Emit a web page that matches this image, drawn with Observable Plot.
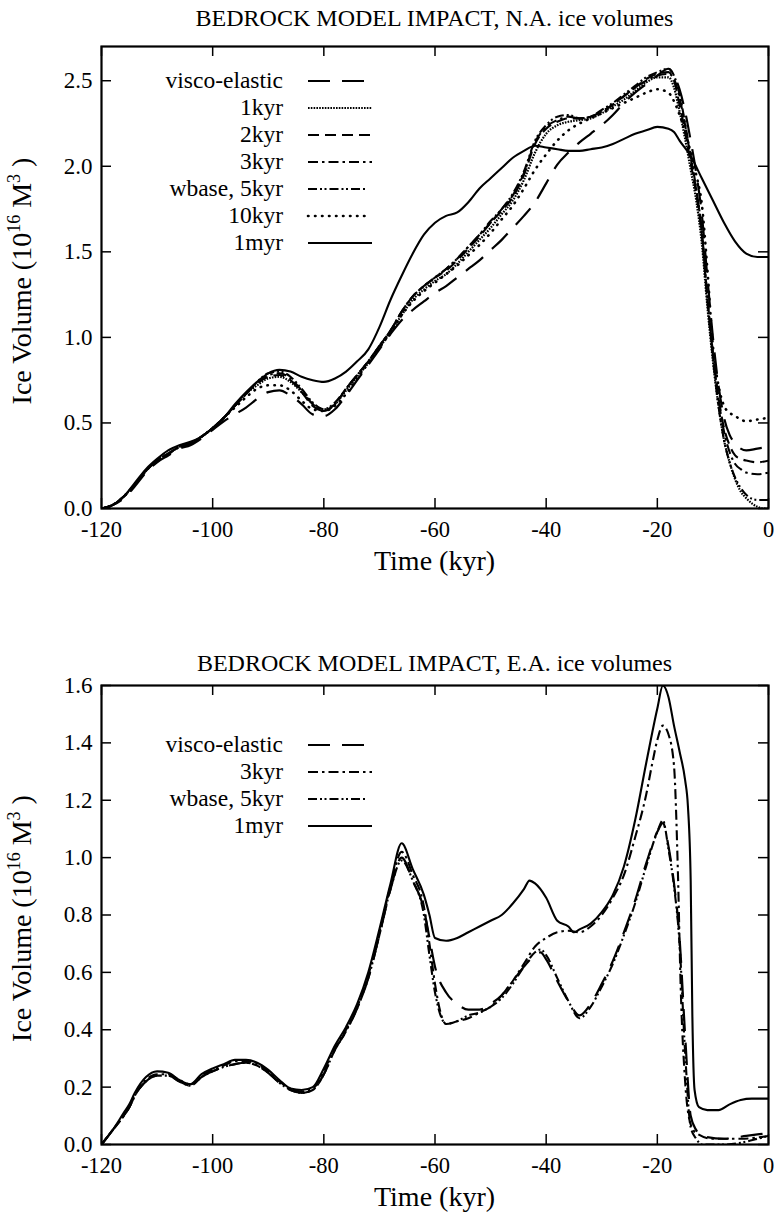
<!DOCTYPE html>
<html><head><meta charset="utf-8">
<script src="https://cdn.jsdelivr.net/npm/d3@7"></script>
<script src="https://cdn.jsdelivr.net/npm/@observablehq/plot@0.6"></script>
<style>
body{margin:0;background:#fff;}
#root{position:relative;width:774px;height:1217px;overflow:hidden;}
#root svg{position:absolute;left:0;}
</style></head><body><div id="root"></div>
<script>
// ---------- shared ----------
const timeTicks = [-120,-100,-80,-60,-40,-20,0];
const naYTicks = [0,0.5,1.0,1.5,2.0,2.5];
const eaYTicks = [0,0.2,0.4,0.6,0.8,1.0,1.2,1.4,1.6];
const naTitle = "BEDROCK MODEL IMPACT, N.A. ice volumes";
const eaTitle = "BEDROCK MODEL IMPACT, E.A. ice volumes";
const xLabel = "Time (kyr)";
const naSeries = ["visco-elastic","1kyr","2kyr","3kyr","wbase, 5kyr","10kyr","1myr"];
const eaSeries = ["visco-elastic","3kyr","wbase, 5kyr","1myr"];

// ---------- N.A. ice volumes [time kyr, volume 1e16 m^3] ----------
const naVisco = [[-120,0],[-118,0.02],[-116,0.06],[-114,0.13],[-112,0.21],[-110,0.27],[-108,0.31],[-106,0.35],[-104,0.37],[-102,0.41],[-100,0.46],[-98,0.51],[-96,0.55],[-94,0.59],[-92,0.64],[-90,0.68],[-88,0.69],[-86,0.66],[-84,0.61],[-82,0.55],[-80,0.54],[-78,0.58],[-76,0.66],[-74,0.75],[-72,0.84],[-70,0.93],[-68,1.02],[-66,1.10],[-64,1.16],[-62,1.21],[-60,1.26],[-58,1.30],[-56,1.35],[-54,1.40],[-52,1.45],[-50,1.51],[-48,1.57],[-46,1.64],[-44,1.71],[-42,1.79],[-40,1.90],[-38,2.01],[-36,2.08],[-34,2.14],[-32,2.19],[-30,2.24],[-28,2.30],[-26,2.37],[-24,2.43],[-22,2.48],[-20,2.53],[-18,2.57],[-17,2.53],[-16,2.45],[-15,2.32],[-14,2.15],[-13,1.96],[-12,1.72],[-11,1.35],[-10,1.00],[-9,0.72],[-8,0.53],[-7,0.43],[-6,0.38],[-5,0.35],[-4,0.34],[-2,0.35],[0,0.36]];
const na1kyr = [[-120,0],[-118,0.02],[-116,0.07],[-114,0.14],[-112,0.22],[-110,0.28],[-108,0.32],[-106,0.36],[-104,0.38],[-102,0.42],[-100,0.47],[-98,0.53],[-96,0.60],[-94,0.67],[-92,0.72],[-90,0.76],[-88,0.77],[-86,0.74],[-84,0.68],[-82,0.61],[-80,0.58],[-78,0.61],[-76,0.69],[-74,0.77],[-72,0.85],[-70,0.94],[-68,1.03],[-66,1.13],[-64,1.22],[-62,1.28],[-60,1.33],[-58,1.37],[-56,1.43],[-54,1.50],[-52,1.57],[-50,1.64],[-48,1.72],[-46,1.80],[-44,1.92],[-42,2.08],[-40,2.19],[-38,2.24],[-36,2.26],[-34,2.27],[-32,2.28],[-30,2.31],[-28,2.35],[-26,2.39],[-24,2.44],[-22,2.49],[-20,2.52],[-18,2.52],[-17,2.46],[-16,2.32],[-15,2.16],[-14,1.98],[-13,1.80],[-12,1.55],[-11,1.18],[-10,0.86],[-9,0.60],[-8,0.40],[-7,0.27],[-6,0.17],[-5,0.10],[-4,0.06],[-3,0.03],[-2,0.01],[-1,0],[0,0]];
const na2kyr = [[-120,0],[-118,0.02],[-116,0.07],[-114,0.14],[-112,0.22],[-110,0.28],[-108,0.32],[-106,0.36],[-104,0.38],[-102,0.42],[-100,0.47],[-98,0.53],[-96,0.60],[-94,0.67],[-92,0.73],[-90,0.77],[-88,0.78],[-86,0.75],[-84,0.68],[-82,0.60],[-80,0.57],[-78,0.61],[-76,0.70],[-74,0.78],[-72,0.86],[-70,0.95],[-68,1.04],[-66,1.15],[-64,1.24],[-62,1.30],[-60,1.35],[-58,1.39],[-56,1.45],[-54,1.52],[-52,1.59],[-50,1.67],[-48,1.74],[-46,1.82],[-44,1.95],[-42,2.13],[-40,2.22],[-38,2.26],[-36,2.28],[-34,2.28],[-32,2.29],[-30,2.32],[-28,2.36],[-26,2.41],[-24,2.46],[-22,2.51],[-20,2.54],[-18,2.55],[-17,2.50],[-16,2.36],[-15,2.20],[-14,2.02],[-13,1.84],[-12,1.60],[-11,1.22],[-10,0.90],[-9,0.65],[-8,0.47],[-7,0.37],[-6,0.31],[-5,0.29],[-4,0.28],[-2,0.27],[0,0.28]];
const na3kyr = [[-120,0],[-118,0.02],[-116,0.07],[-114,0.14],[-112,0.22],[-110,0.28],[-108,0.32],[-106,0.36],[-104,0.38],[-102,0.42],[-100,0.47],[-98,0.53],[-96,0.60],[-94,0.67],[-92,0.74],[-90,0.78],[-88,0.79],[-86,0.76],[-84,0.69],[-82,0.61],[-80,0.57],[-78,0.61],[-76,0.70],[-74,0.78],[-72,0.86],[-70,0.95],[-68,1.04],[-66,1.15],[-64,1.24],[-62,1.30],[-60,1.35],[-58,1.40],[-56,1.46],[-54,1.53],[-52,1.60],[-50,1.67],[-48,1.75],[-46,1.83],[-44,1.96],[-42,2.14],[-40,2.23],[-38,2.27],[-36,2.29],[-34,2.28],[-32,2.29],[-30,2.32],[-28,2.36],[-26,2.41],[-24,2.46],[-22,2.50],[-20,2.53],[-18,2.54],[-17,2.51],[-16,2.40],[-15,2.24],[-14,2.05],[-13,1.86],[-12,1.62],[-11,1.24],[-10,0.91],[-9,0.64],[-8,0.45],[-7,0.33],[-6,0.26],[-5,0.23],[-4,0.21],[-2,0.20],[0,0.21]];
const naWbase = [[-120,0],[-118,0.02],[-116,0.07],[-114,0.14],[-112,0.22],[-110,0.28],[-108,0.32],[-106,0.36],[-104,0.38],[-102,0.42],[-100,0.47],[-98,0.53],[-96,0.60],[-94,0.67],[-92,0.74],[-90,0.79],[-88,0.80],[-86,0.77],[-84,0.70],[-82,0.62],[-80,0.58],[-78,0.62],[-76,0.70],[-74,0.78],[-72,0.86],[-70,0.95],[-68,1.04],[-66,1.15],[-64,1.24],[-62,1.30],[-60,1.35],[-58,1.40],[-56,1.46],[-54,1.53],[-52,1.60],[-50,1.68],[-48,1.75],[-46,1.84],[-44,1.97],[-42,2.15],[-40,2.24],[-38,2.29],[-36,2.30],[-34,2.28],[-32,2.29],[-30,2.33],[-28,2.37],[-26,2.42],[-24,2.47],[-22,2.52],[-20,2.55],[-18,2.57],[-17,2.53],[-16,2.42],[-15,2.25],[-14,2.06],[-13,1.87],[-12,1.62],[-11,1.23],[-10,0.88],[-9,0.60],[-8,0.40],[-7,0.27],[-6,0.18],[-5,0.12],[-4,0.08],[-2,0.05],[0,0.05]];
const na10kyr = [[-120,0],[-118,0.02],[-116,0.07],[-114,0.14],[-112,0.22],[-110,0.28],[-108,0.32],[-106,0.36],[-104,0.38],[-102,0.42],[-100,0.47],[-98,0.53],[-96,0.59],[-94,0.65],[-92,0.70],[-90,0.72],[-88,0.72],[-86,0.69],[-84,0.63],[-82,0.58],[-80,0.57],[-78,0.60],[-76,0.67],[-74,0.76],[-72,0.85],[-70,0.94],[-68,1.03],[-66,1.13],[-64,1.21],[-62,1.27],[-60,1.32],[-58,1.37],[-56,1.42],[-54,1.48],[-52,1.54],[-50,1.61],[-48,1.69],[-46,1.77],[-44,1.87],[-42,1.98],[-40,2.07],[-38,2.15],[-36,2.21],[-34,2.25],[-32,2.28],[-30,2.31],[-28,2.34],[-26,2.37],[-24,2.40],[-22,2.43],[-20,2.45],[-18,2.43],[-17,2.38],[-16,2.30],[-15,2.20],[-14,2.08],[-13,1.95],[-12,1.78],[-11,1.40],[-10,0.95],[-9,0.72],[-8,0.60],[-7,0.56],[-6,0.54],[-4,0.51],[-2,0.52],[0,0.53]];
const na1myr = [[-120,0],[-118,0.02],[-116,0.07],[-114,0.15],[-112,0.23],[-110,0.29],[-108,0.34],[-106,0.37],[-104,0.39],[-102,0.42],[-100,0.47],[-98,0.53],[-96,0.61],[-94,0.68],[-92,0.74],[-90,0.79],[-88,0.81],[-86,0.80],[-84,0.77],[-82,0.75],[-80,0.74],[-78,0.76],[-76,0.80],[-74,0.86],[-72,0.93],[-71,0.99],[-70,1.06],[-68,1.22],[-66,1.36],[-64,1.49],[-62,1.60],[-60,1.67],[-58,1.71],[-56,1.73],[-54,1.79],[-52,1.87],[-50,1.93],[-48,1.99],[-46,2.05],[-44,2.09],[-42,2.12],[-40,2.11],[-38,2.10],[-36,2.09],[-34,2.09],[-32,2.10],[-30,2.11],[-28,2.13],[-26,2.16],[-24,2.19],[-22,2.21],[-20,2.23],[-18,2.22],[-17,2.20],[-16,2.15],[-14,2.06],[-12,1.93],[-10,1.80],[-8,1.67],[-6,1.56],[-4,1.49],[-2,1.47],[0,1.47]];

// ---------- E.A. ice volumes ----------
const eaVisco = [[-120,0],[-118,0.05],[-116,0.10],[-115,0.13],[-114,0.17],[-112,0.22],[-110,0.24],[-108,0.24],[-106,0.22],[-104,0.205],[-102,0.235],[-100,0.255],[-98,0.27],[-96,0.28],[-94,0.285],[-92,0.275],[-90,0.25],[-88,0.215],[-86,0.19],[-84,0.18],[-82,0.19],[-80,0.245],[-78,0.33],[-76,0.395],[-74,0.475],[-72,0.58],[-70,0.73],[-68,0.89],[-66,1.00],[-64,0.92],[-62,0.82],[-61,0.72],[-60,0.62],[-58,0.53],[-56,0.49],[-54,0.47],[-52,0.47],[-50,0.49],[-48,0.52],[-46,0.57],[-44,0.62],[-42,0.66],[-41,0.67],[-40,0.645],[-38,0.57],[-36,0.50],[-34,0.45],[-32,0.49],[-30,0.56],[-28,0.64],[-26,0.74],[-24,0.85],[-22,0.98],[-20,1.09],[-19,1.12],[-18,1.04],[-17,0.91],[-16,0.72],[-15,0.38],[-14,0.10],[-13,0.05],[-12,0.03],[-8,0.02],[-4,0.03],[0,0.04]];
const ea3kyr = [[-120,0],[-118,0.05],[-116,0.10],[-115,0.13],[-114,0.17],[-112,0.225],[-110,0.245],[-108,0.245],[-106,0.225],[-104,0.21],[-102,0.24],[-100,0.26],[-98,0.275],[-96,0.29],[-94,0.29],[-92,0.28],[-90,0.255],[-88,0.22],[-86,0.195],[-84,0.185],[-82,0.195],[-80,0.255],[-78,0.34],[-76,0.40],[-74,0.48],[-72,0.59],[-70,0.74],[-68,0.90],[-66,1.02],[-64,0.94],[-62,0.83],[-61,0.70],[-60,0.56],[-59,0.46],[-58,0.42],[-56,0.43],[-54,0.44],[-52,0.46],[-50,0.48],[-48,0.52],[-46,0.57],[-44,0.63],[-42,0.69],[-40,0.72],[-38,0.74],[-36,0.745],[-34,0.74],[-32,0.76],[-30,0.80],[-28,0.86],[-26,0.94],[-24,1.07],[-22,1.22],[-21,1.32],[-20,1.41],[-19,1.46],[-18,1.43],[-17,1.32],[-16.3,0.95],[-15.8,0.55],[-15,0.22],[-14,0.07],[-13,0.04],[-10,0.02],[-5,0.02],[0,0.03]];
const eaWbase = [[-120,0],[-118,0.05],[-116,0.10],[-115,0.13],[-114,0.17],[-112,0.22],[-110,0.24],[-108,0.24],[-106,0.22],[-104,0.205],[-102,0.235],[-100,0.255],[-98,0.27],[-96,0.28],[-94,0.285],[-92,0.275],[-90,0.25],[-88,0.215],[-86,0.19],[-84,0.18],[-82,0.19],[-80,0.245],[-78,0.33],[-76,0.395],[-74,0.475],[-72,0.58],[-70,0.73],[-68,0.89],[-66,0.99],[-64,0.92],[-62,0.80],[-61,0.66],[-60,0.53],[-59,0.45],[-58,0.42],[-56,0.43],[-54,0.45],[-52,0.46],[-50,0.48],[-48,0.51],[-46,0.56],[-44,0.62],[-42,0.67],[-41,0.68],[-40,0.66],[-38,0.58],[-36,0.50],[-34,0.44],[-32,0.48],[-30,0.55],[-28,0.63],[-26,0.73],[-24,0.84],[-22,0.97],[-20,1.09],[-19,1.13],[-18,1.03],[-17,0.90],[-16,0.70],[-15,0.32],[-14,0.06],[-13,0.02],[-12,0.0],[-8,0.0],[-4,0.01],[-2,0.02],[0,0.03]];
const ea1myr = [[-120,0],[-118,0.05],[-116,0.11],[-115,0.14],[-114,0.18],[-112,0.235],[-110,0.255],[-108,0.25],[-106,0.225],[-104,0.21],[-102,0.245],[-100,0.265],[-98,0.28],[-96,0.295],[-94,0.295],[-92,0.285],[-90,0.26],[-88,0.225],[-86,0.195],[-84,0.19],[-82,0.20],[-80,0.265],[-78,0.345],[-76,0.41],[-74,0.49],[-72,0.60],[-70,0.75],[-68,0.91],[-66,1.05],[-64,0.96],[-62,0.87],[-61,0.80],[-60,0.72],[-58,0.71],[-56,0.72],[-54,0.74],[-52,0.76],[-50,0.78],[-48,0.80],[-46,0.84],[-44,0.89],[-43,0.92],[-42,0.91],[-40,0.86],[-38,0.78],[-36,0.76],[-35,0.74],[-34,0.75],[-32,0.77],[-30,0.81],[-28,0.87],[-26,0.97],[-24,1.13],[-22,1.33],[-20,1.52],[-19,1.60],[-18,1.56],[-17,1.46],[-16,1.37],[-15,1.27],[-14.5,1.18],[-14,0.92],[-13.7,0.45],[-13.3,0.19],[-12.5,0.13],[-11,0.12],[-9,0.12],[-7,0.14],[-5,0.155],[-3,0.16],[0,0.16]];

const naData = {"visco-elastic":naVisco,"1kyr":na1kyr,"2kyr":na2kyr,"3kyr":na3kyr,"wbase, 5kyr":naWbase,"10kyr":na10kyr,"1myr":na1myr};
const eaData = {"visco-elastic":eaVisco,"3kyr":ea3kyr,"wbase, 5kyr":eaWbase,"1myr":ea1myr};

// ---------- styles (kept separate from data) ----------
const lineStyle = {
  "visco-elastic": {dash:"22,12", w:2.2, cap:"butt", lx2:364},
  "1kyr": {dash:"1.6,1.2", w:2.2, cap:"butt", lx2:372},
  "2kyr": {dash:"11,6", w:2.1, cap:"butt", lx2:372},
  "3kyr": {dash:"10,4,2.5,4", w:2.1, cap:"butt", lx2:372},
  "wbase, 5kyr": {dash:"9,3,2,2.5,2,3", w:2.1, cap:"butt", lx2:366},
  "10kyr": {dash:"0.5,6.5", w:2.6, cap:"round", lx2:366},
  "1myr": {dash:null, w:2.1, cap:"butt", lx2:372}
};
const FONT = "Liberation Serif, Times New Roman, Times, serif";

function makeChart(cfg) {
  const {top, height, mTop, mBottom, yDomain, yTicks, names, data, title, titleY, xLabelY, legendY0} = cfg;
  const mLeft = 101, mRight = 6;
  const fw = 774 - mLeft - mRight, fh = height - mTop - mBottom;
  const marks = [];
  for (const name of names) {
    const s = lineStyle[name];
    marks.push(Plot.line(data[name], {x: d => d[0], y: d => d[1], curve: "monotone-x",
      stroke: "#000", strokeWidth: s.w, strokeDasharray: s.dash || undefined, strokeLinecap: s.cap, clip: true}));
  }
  marks.push(
    Plot.tickX(timeTicks, {x: d => d, insetTop: fh - 10, stroke: "#000", strokeWidth: 1.5}),
    Plot.tickX(timeTicks, {x: d => d, insetBottom: fh - 10, stroke: "#000", strokeWidth: 1.5}),
    Plot.tickY(yTicks, {y: d => d, insetRight: fw - 10, stroke: "#000", strokeWidth: 1.5}),
    Plot.tickY(yTicks, {y: d => d, insetLeft: fw - 10, stroke: "#000", strokeWidth: 1.5}),
    Plot.frame({stroke: "#000", strokeWidth: 2.2}),
    Plot.axisX(timeTicks, {tickSize: 0, tickPadding: 13, tickFormat: d => String(d), label: null, fontSize: 22.5, fontFamily: FONT, fill: "#000"}),
    Plot.axisY(yTicks, {tickSize: 0, tickPadding: 9, tickFormat: d3.format(".1f"), label: null, fontSize: 23, fontFamily: FONT, fill: "#000"})
  );
  const svg = Plot.plot({
    width: 774, height, marginLeft: mLeft, marginRight: mRight, marginTop: mTop, marginBottom: mBottom,
    x: {domain: [-120, 0]}, y: {domain: yDomain},
    style: {fontFamily: FONT, fontSize: "23px", color: "#000", background: "transparent", overflow: "visible"},
    marks
  });
  svg.style.top = top + "px";
  const sel = d3.select(svg);
  // title
  sel.append("text").attr("x", mLeft + fw / 2).attr("y", titleY).attr("text-anchor", "middle")
    .attr("font-family", FONT).attr("font-size", 24).attr("fill", "#000").text(title);
  // x label
  sel.append("text").attr("x", mLeft + fw / 2).attr("y", xLabelY).attr("text-anchor", "middle")
    .attr("font-family", FONT).attr("font-size", 28).attr("fill", "#000").text(xLabel);
  // y label
  const yl = sel.append("text").attr("transform", `translate(31,${mTop + fh / 2 + 4}) rotate(-90)`)
    .attr("text-anchor", "middle").attr("font-family", FONT).attr("font-size", 28).attr("fill", "#000");
  yl.append("tspan").text("Ice Volume (10");
  yl.append("tspan").attr("dy", -11).attr("font-size", 18).text("16");
  yl.append("tspan").attr("dy", 11).text(" M");
  yl.append("tspan").attr("dy", -11).attr("font-size", 18).text("3");
  yl.append("tspan").attr("dy", 11).text(" )");
  // legend
  const lg = sel.append("g");
  names.forEach((name, i) => {
    const y = legendY0 + i * 27;
    const s = lineStyle[name];
    lg.append("text").attr("x", 283).attr("y", y + 7).attr("text-anchor", "end")
      .attr("font-family", FONT).attr("font-size", 23.5).attr("fill", "#000").text(name);
    lg.append("line").attr("x1", 308).attr("x2", s.lx2).attr("y1", y).attr("y2", y)
      .attr("stroke", "#000").attr("stroke-width", s.w)
      .attr("stroke-dasharray", s.dash || null).attr("stroke-linecap", s.cap);
  });
  return svg;
}

const root = document.getElementById("root");
root.appendChild(makeChart({top: 0, height: 590, mTop: 46, mBottom: 82, yDomain: [0, 2.7], yTicks: naYTicks,
  names: naSeries, data: naData, title: naTitle, titleY: 26, xLabelY: 570, legendY0: 81}));
root.appendChild(makeChart({top: 600, height: 617, mTop: 85, mBottom: 73, yDomain: [0, 1.6], yTicks: eaYTicks,
  names: eaSeries, data: eaData, title: eaTitle, titleY: 71, xLabelY: 606, legendY0: 145}));
</script>
</body></html>
